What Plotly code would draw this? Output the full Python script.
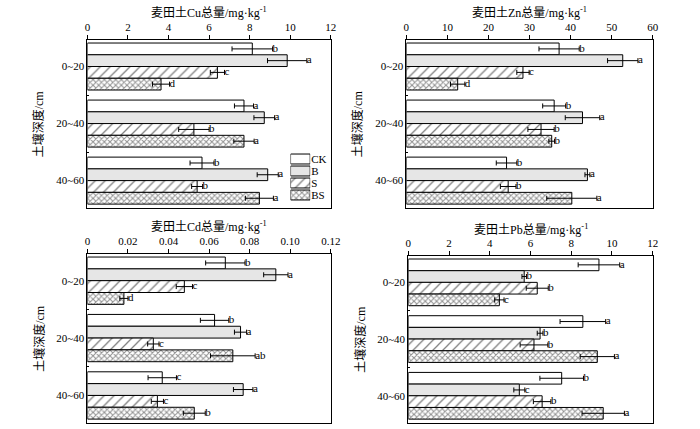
import plotly.graph_objects as go

depths = ["0~20", "20~40", "40~60"]
series = ["CK", "B", "S", "BS"]

# values per series (CK, B, S, BS), each across depths 0~20, 20~40, 40~60
cu_means = [[8.13, 7.72, 5.65], [9.85, 8.72, 8.89], [6.41, 5.25, 5.41], [3.63, 7.72, 8.48]]
cu_errs = [[1.0, 0.47, 0.59], [0.97, 0.51, 0.52], [0.35, 0.75, 0.27], [0.42, 0.5, 0.69]]
cu_letters = [["b", "a", "b"], ["a", "a", "a"], ["c", "b", "b"], ["d", "a", "a"]]

zn_means = [[37.2, 36.0, 24.4], [52.7, 42.9, 44.1], [28.4, 32.8, 24.8], [12.5, 35.4, 40.3]]
zn_errs = [[4.9, 2.8, 2.5], [3.7, 4.2, 0.6], [1.5, 3.2, 1.9], [1.75, 0.7, 6.1]]
zn_letters = [["b", "b", "b"], ["a", "a", "a"], ["c", "b", "b"], ["d", "b", "a"]]

cd_means = [[0.068, 0.0627, 0.0369], [0.0929, 0.0755, 0.0768], [0.0478, 0.0325, 0.0345], [0.018, 0.0717, 0.0527]]
cd_errs = [[0.0097, 0.007, 0.007], [0.006, 0.003, 0.0048], [0.004, 0.0028, 0.003], [0.002, 0.011, 0.0054]]
cd_letters = [["b", "b", "c"], ["a", "a", "a"], ["c", "c", "c"], ["d", "ab", "b"]]

pb_means = [[9.36, 8.57, 7.53], [5.69, 6.47, 5.45], [6.33, 6.17, 6.57], [4.47, 9.28, 9.57]]
pb_errs = [[1.02, 1.12, 1.07], [0.11, 0.14, 0.27], [0.54, 0.68, 0.43], [0.23, 0.84, 1.04]]
pb_letters = [["a", "a", "b"], ["b", "b", "c"], ["b", "b", "b"], ["c", "a", "a"]]

titles = ["麦田土Cu总量/mg·kg<sup>-1</sup>", "麦田土Zn总量/mg·kg<sup>-1</sup>",
          "麦田土Cd总量/mg·kg<sup>-1</sup>", "麦田土Pb总量/mg·kg<sup>-1</sup>"]
x_ticks = [[0, 2, 4, 6, 8, 10, 12], [0, 10, 20, 30, 40, 50, 60],
           [0, 0.02, 0.04, 0.06, 0.08, 0.10, 0.12], [0, 2, 4, 6, 8, 10, 12]]
x_ticktext = [None, None, ["0", "0.02", "0.04", "0.06", "0.08", "0.10", "0.12"], None]
x_max = [12, 60, 0.12, 12]

panels = [(cu_means, cu_errs, cu_letters), (zn_means, zn_errs, zn_letters),
          (cd_means, cd_errs, cd_letters), (pb_means, pb_errs, pb_letters)]

W, H = 700, 429
# pixel boxes: (left, right, top, bottom)
boxes = [(86, 334, 40, 208), (411, 662, 40, 208), (86, 334, 254, 423), (413, 662, 256, 423)]

pat_shapes = ["", ".", "/", "x"]
pat_fg = ["black", "#8a8a8a", "black", "#222222"]
pat_size = [6, 2, 7, 4]
pat_solid = [0.2, 0.5, 0.18, 0.45]

serif = "Liberation Serif, Times New Roman, Noto Sans CJK SC, serif"
bw = 0.206

fig = go.Figure()
annotations = []
for p, (means, errs, letters) in enumerate(panels):
    xa = "x" if p == 0 else f"x{p+1}"
    ya = "y" if p == 0 else f"y{p+1}"
    for s, name in enumerate(series):
        ypos = [g + (s - 1.5) * bw for g in range(len(depths))]
        fig.add_trace(go.Bar(
            x=means[s], y=ypos, orientation="h", width=bw, name=name,
            xaxis=xa, yaxis=ya, showlegend=False,
            marker=dict(color="white", line=dict(color="black", width=1),
                        pattern=dict(shape=pat_shapes[s], fgcolor=pat_fg[s], bgcolor="white",
                                     size=pat_size[s], solidity=pat_solid[s])),
            error_x=dict(type="data", array=errs[s], color="black", thickness=1, width=2.5),
        ))
        fig.add_trace(go.Scatter(
            x=[m + e for m, e in zip(means[s], errs[s])], y=ypos, mode="text",
            text=letters[s], textposition="middle right", showlegend=False,
            textfont=dict(family=serif, size=11, color="black"),
            xaxis=xa, yaxis=ya, hoverinfo="skip", cliponaxis=False,
        ))
    l, r, t, b = boxes[p]
    xdom = [l / W, r / W]
    ydom = [(H - b) / H, (H - t) / H]
    xkey = "xaxis" if p == 0 else f"xaxis{p+1}"
    ykey = "yaxis" if p == 0 else f"yaxis{p+1}"
    xaxis = dict(domain=xdom, range=[0, x_max[p]], side="top", anchor=ya,
                 tickvals=x_ticks[p], ticks="outside", ticklen=4, tickcolor="black",
                 showline=True, linecolor="black", linewidth=1, mirror=True,
                 showgrid=False, zeroline=False,
                 tickfont=dict(family=serif, size=11, color="black"))
    if x_ticktext[p]:
        xaxis["ticktext"] = x_ticktext[p]
    yaxis = dict(domain=ydom, range=[2.48, -0.465], anchor=xa,
                 tickvals=[0, 1, 2], ticktext=depths, ticks="", ticklen=0,
                 showline=True, linecolor="black", linewidth=1, mirror=True,
                 showgrid=False, zeroline=False,
                 minor=dict(tickvals=[0.5, 1.5], ticks="inside", ticklen=2, tickcolor="black"),
                 tickfont=dict(family=serif, size=11, color="black"))
    fig.update_layout({xkey: xaxis, ykey: yaxis})
    annotations.append(dict(text=titles[p], xref="paper", yref="paper",
                            x=(l + r) / 2 / W, y=(H - (t - 27)) / H, showarrow=False,
                            xanchor="center", yanchor="middle",
                            font=dict(family=serif, size=12, color="black")))
    annotations.append(dict(text="土壤深度/cm", xref="paper", yref="paper",
                            x=(l - 49) / W, y=(H - (t + b) / 2) / H, showarrow=False,
                            textangle=-90, xanchor="center", yanchor="middle",
                            font=dict(family=serif, size=12, color="black")))

# legend drawn as a small patterned bar key inside the Cu panel
fig.add_trace(go.Bar(
    x=[1] * len(series), y=series, orientation="h", xaxis="x5", yaxis="y5",
    showlegend=False, hoverinfo="skip",
    marker=dict(color="white", line=dict(color="black", width=1),
                pattern=dict(shape=pat_shapes, fgcolor=pat_fg, bgcolor="white",
                             size=pat_size, solidity=pat_solid)),
))
fig.update_layout(
    xaxis5=dict(domain=[293 / W, 313 / W], range=[0, 1], anchor="y5", visible=False),
    yaxis5=dict(domain=[(H - 201) / H, (H - 153) / H], anchor="x5", side="right",
                type="category", tickmode="array", tickvals=series, ticktext=series,
                autorange="reversed", showline=False, showgrid=False, zeroline=False,
                ticks="", tickfont=dict(family=serif, size=11, color="black")),
    bargap=0.17,
)

fig.update_layout(
    width=W, height=H, margin=dict(l=0, r=0, t=0, b=0),
    paper_bgcolor="white", plot_bgcolor="white",
    barmode="overlay", showlegend=False,
    annotations=annotations,
)

fig.write_html("out.html", config={"displayModeBar": False},
               post_script="document.body.style.margin='0';")
